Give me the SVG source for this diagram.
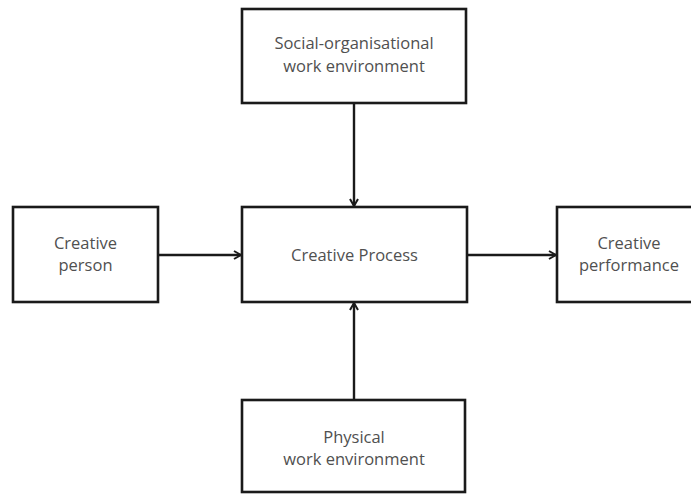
<svg xmlns="http://www.w3.org/2000/svg" width="691" height="497" viewBox="0 0 691 497">
  <style>
    .box { fill: #ffffff; stroke: #1a1a1a; stroke-width: 2.6; }
    .lbl { font-family: "Open Sans", "Liberation Sans", sans-serif; font-size: 16.5px; fill: #505050; text-anchor: middle; }
    .conn { stroke: #1a1a1a; stroke-width: 2.4; fill: none; marker-end: url(#arrow); }
  </style>
  <defs>
    <marker id="arrow" viewBox="0 0 10 10" refX="9" refY="5" markerWidth="10" markerHeight="10" markerUnits="userSpaceOnUse" orient="auto">
      <path d="M2,1 L9,5 L2,9" fill="none" stroke="#1a1a1a" stroke-width="2"/>
    </marker>
  </defs>

  <g id="connectors">
    <line class="conn" x1="354" y1="104" x2="354" y2="206"/>
    <line class="conn" x1="354" y1="400" x2="354" y2="303"/>
    <line class="conn" x1="158" y1="255" x2="241" y2="255"/>
    <line class="conn" x1="467" y1="255" x2="556" y2="255"/>
  </g>

  <g id="social-env">
    <rect class="box" x="242" y="9" width="224" height="94"/>
    <text class="lbl" x="354" y="49">Social-organisational</text>
    <text class="lbl" x="354" y="72">work environment</text>
  </g>

  <g id="creative-person">
    <rect class="box" x="13" y="207" width="145" height="95"/>
    <text class="lbl" x="85.5" y="249">Creative</text>
    <text class="lbl" x="85.5" y="271">person</text>
  </g>

  <g id="creative-process">
    <rect class="box" x="242" y="207" width="225" height="95"/>
    <text class="lbl" x="354.5" y="261">Creative Process</text>
  </g>

  <g id="creative-performance">
    <rect class="box" x="557" y="207" width="145" height="95"/>
    <text class="lbl" x="629" y="249">Creative</text>
    <text class="lbl" x="629" y="271">performance</text>
  </g>

  <g id="physical-env">
    <rect class="box" x="242" y="400" width="223" height="92"/>
    <text class="lbl" x="354" y="443">Physical</text>
    <text class="lbl" x="354" y="465">work environment</text>
  </g>
</svg>
